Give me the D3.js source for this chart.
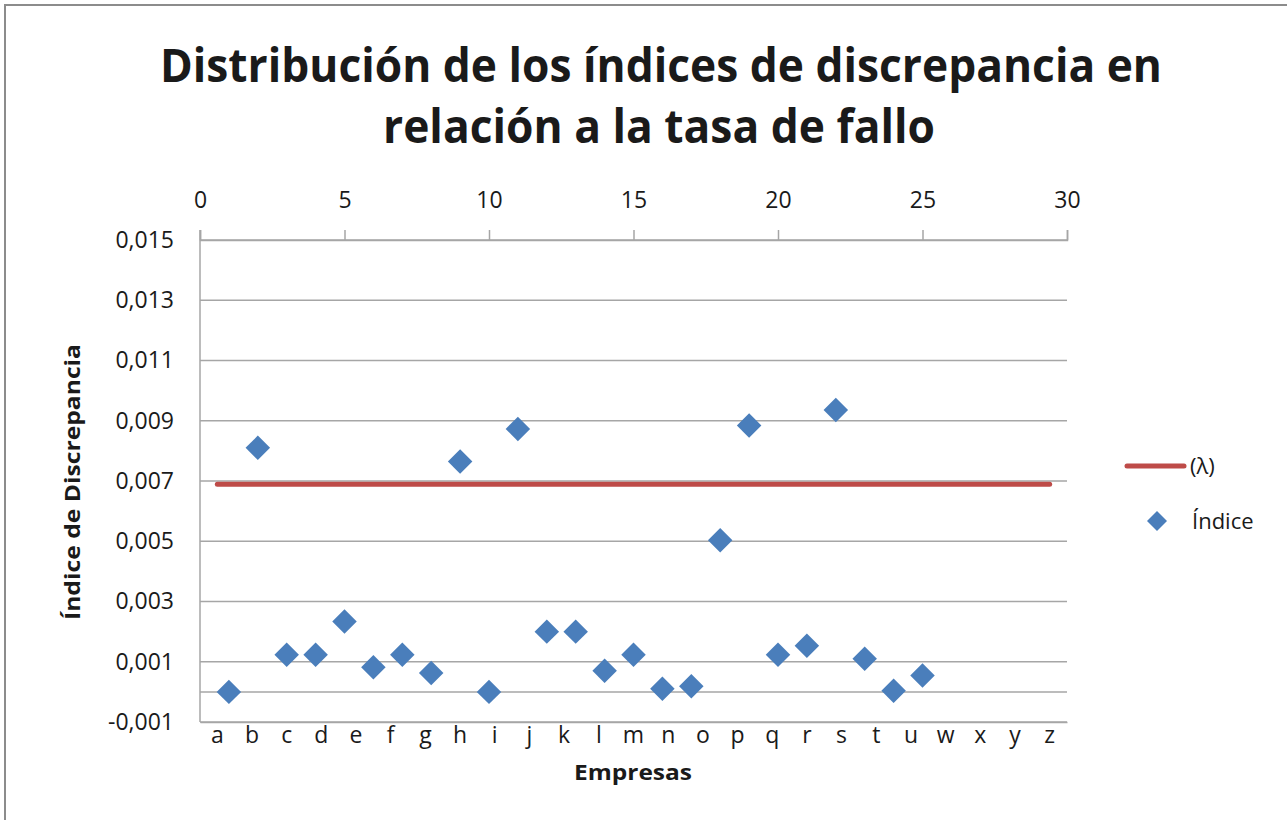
<!DOCTYPE html>
<html>
<head>
<meta charset="utf-8">
<script src="https://cdn.jsdelivr.net/npm/d3@7"></script>
<style>
body{margin:0;background:#fff;}
text{font-family:"Open Sans",sans-serif;fill:#1a1a1a;}
</style>
</head>
<body>
<script>
// categorias (eje inferior) - no hay "v"
var empresas = ['a','b','c','d','e','f','g','h','i','j','k','l','m','n','o','p','q','r','s','t','u','w','x','y','z'];
// indice de discrepancia, x = 1..25 en el eje superior
var indiceX = [1,2,3,4,5,6,7,8,9,10,11,12,13,14,15,16,17,18,19,20,21,22,23,24,25];
var indiceY = [0.0000,0.0081,0.00123,0.00123,0.00234,0.00082,0.00123,0.00063,0.00765,0.0000,0.00873,0.0020,0.0020,0.0007,0.00123,0.0001,0.00019,0.00503,0.00884,0.00123,0.00153,0.00936,0.0011,0.00004,0.00054];
var lambda = 0.00689;
var yTicks = [-0.001,0.001,0.003,0.005,0.007,0.009,0.011,0.013,0.015];
var topTicks = [0,5,10,15,20,25,30];

var width = 1287, height = 820;
var plot = {left:200, top:240, right:1067, bottom:722};

var svg = d3.select('body').append('svg').attr('width',width).attr('height',height);

svg.append('rect').attr('x',5).attr('y',5).attr('width',1300).attr('height',830)
  .attr('fill','#fff').attr('stroke','#8c8c8c').attr('stroke-width',2);

var loc = d3.formatLocale({decimal:',',thousands:'.',grouping:[3],currency:['','€'],minus:'-'});
var fmt = loc.format('.3f');

var y = d3.scaleLinear().domain([-0.001,0.015]).range([plot.bottom,plot.top]);
var xTop = d3.scaleLinear().domain([0,30]).range([plot.left,plot.right]);
var xCat = d3.scaleBand().domain(empresas).range([plot.left,plot.right]);
var cx = function(c){ return xCat(c) + xCat.bandwidth()/2; };

// titulo
var title = svg.append('g').attr('font-weight','bold');
title.append('text').attr('x',661).attr('y',82).attr('text-anchor','middle')
  .attr('font-size',46).attr('textLength',1002).attr('lengthAdjust','spacingAndGlyphs')
  .text('Distribución de los índices de discrepancia en');
title.append('text').attr('x',659).attr('y',143).attr('text-anchor','middle')
  .attr('font-size',46).attr('textLength',552).attr('lengthAdjust','spacingAndGlyphs')
  .text('relación a la tasa de fallo');

// lineas de cuadricula
var grid = svg.append('g');
grid.selectAll('line').data(yTicks.concat([0])).enter().append('line')
  .attr('x1',plot.left).attr('x2',plot.right)
  .attr('y1',function(d){return y(d);}).attr('y2',function(d){return y(d);})
  .attr('stroke','#a6a6a6').attr('stroke-width',1.5);

// eje y
var yAxis = svg.append('g').attr('transform','translate('+plot.left+',0)')
  .call(d3.axisLeft(y).tickValues(yTicks).tickFormat(fmt).tickSize(0).tickPadding(26));
yAxis.select('.domain').remove();
yAxis.selectAll('text').attr('font-size',23).attr('fill','#1a1a1a');
svg.append('line').attr('x1',plot.left).attr('x2',plot.left).attr('y1',plot.top-10).attr('y2',plot.bottom)
  .attr('stroke','#a6a6a6').attr('stroke-width',1.5);

// eje superior
var topAxis = svg.append('g').attr('transform','translate(0,'+plot.top+')')
  .call(d3.axisTop(xTop).tickValues(topTicks).tickSize(10).tickPadding(22));
topAxis.select('.domain').attr('stroke','#a6a6a6').attr('stroke-width',1.5);
topAxis.selectAll('line').attr('stroke','#a6a6a6').attr('stroke-width',1.5);
topAxis.selectAll('text').attr('font-size',23).attr('fill','#1a1a1a');

// eje inferior (categorias)
var botAxis = svg.append('g').attr('transform','translate(0,'+plot.bottom+')')
  .call(d3.axisBottom(xCat).tickSize(0).tickPadding(5));
botAxis.select('.domain').attr('stroke','#a6a6a6').attr('stroke-width',1.5);
botAxis.selectAll('text').attr('font-size',23).attr('fill','#1a1a1a');

// titulos de ejes
svg.append('text').attr('transform','translate(80,482) rotate(-90)').attr('text-anchor','middle')
  .attr('font-weight','bold').attr('font-size',21).attr('textLength',276).attr('lengthAdjust','spacingAndGlyphs')
  .text('Índice de Discrepancia');
svg.append('text').attr('x',633).attr('y',780).attr('text-anchor','middle')
  .attr('font-weight','bold').attr('font-size',21).attr('textLength',118).attr('lengthAdjust','spacingAndGlyphs')
  .text('Empresas');

// linea lambda
svg.append('line').attr('x1',cx(empresas[0])).attr('x2',cx(empresas[empresas.length-1]))
  .attr('y1',y(lambda)).attr('y2',y(lambda))
  .attr('stroke','#be4b48').attr('stroke-width',5).attr('stroke-linecap','round');

// puntos
var pts = indiceX.map(function(d,i){ return [d, indiceY[i]]; });
var diamond = d3.symbol().type(d3.symbolSquare).size(300);
svg.append('g').selectAll('path').data(pts).enter().append('path')
  .attr('d',diamond)
  .attr('transform',function(d){ return 'translate('+xTop(d[0])+','+y(d[1])+') rotate(45)'; })
  .attr('fill','#4a7ebb');

// leyenda
var leg = svg.append('g');
leg.append('line').attr('x1',1127).attr('x2',1184).attr('y1',466).attr('y2',466)
  .attr('stroke','#be4b48').attr('stroke-width',5).attr('stroke-linecap','round');
leg.append('text').attr('x',1190).attr('y',474).attr('font-size',22).text('(λ)');
leg.append('path').attr('d',d3.symbol().type(d3.symbolSquare).size(200))
  .attr('transform','translate(1157,521) rotate(45)').attr('fill','#4a7ebb');
leg.append('text').attr('x',1192).attr('y',529).attr('font-size',22).text('Índice');
</script>
</body>
</html>
